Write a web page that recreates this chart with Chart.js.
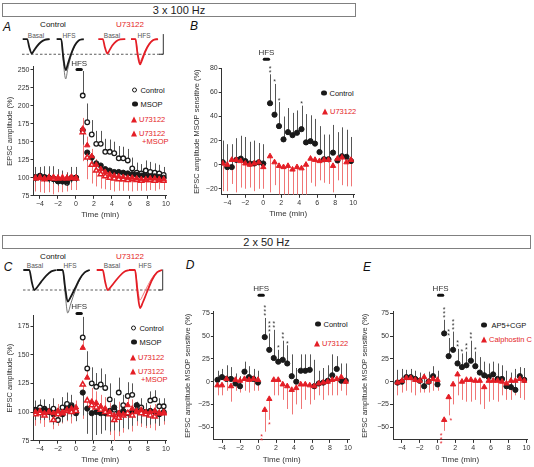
<!DOCTYPE html>
<html>
<head>
<meta charset="utf-8">
<script src="https://cdn.jsdelivr.net/npm/chart.js@4.4.0/dist/chart.umd.min.js"></script>
<style>
  body { margin: 0; width: 534px; height: 467px; position: relative; overflow: hidden; background: #fff;
         font-family: 'Liberation Sans', Arial, Helvetica, sans-serif; color: #1a1a1a; }
  canvas { position: absolute; }
  .box { position: absolute; border: 1px solid #808080; font-size: 11px; line-height: 12px; text-align: center; color: #222; }
  .c { position: absolute; transform: translate(-50%, -50%); white-space: nowrap; color: #111; }
  .let { font-size: 12px; font-style: italic; }
  .sub { font-size: 6.5px; color: #555; }
  .lg { position: absolute; transform: translateY(-50%); display: flex; align-items: center; font-size: 7.5px; white-space: nowrap; color: #111; }
  .red { color: #e41e26; }
  .mo { width: 3.4px; height: 3.4px; border: 1.4px solid #1a1a1a; border-radius: 50%; margin-right: 3px; background: #fff; }
  .mf { width: 5.5px; height: 5.5px; border-radius: 50%; background: #1a1a1a; margin-right: 3px; }
  .mt { width: 0; height: 0; border-left: 3.5px solid transparent; border-right: 3.5px solid transparent; border-bottom: 6px solid #e41e26; margin-right: 2px; }
</style>
</head>
<body>

<div class="box" style="left:2px;top:3px;width:352px;height:12px">3 x 100 Hz</div>
<div class="box" style="left:2px;top:235px;width:527px;height:12px">2 x 50 Hz</div>

<div class="c let" style="left:7px;top:27px">A</div>
<div class="c let" style="left:194px;top:26px">B</div>
<div class="c let" style="left:8px;top:267px">C</div>
<div class="c let" style="left:190px;top:265px">D</div>
<div class="c let" style="left:367px;top:267px">E</div>

<!-- trace labels -->
<div class="c" style="left:53px;top:24px;font-size:8px">Control</div>
<div class="c red" style="left:130px;top:24px;font-size:8px">U73122</div>
<div class="c sub" style="left:36px;top:35px">Basal</div>
<div class="c sub" style="left:69px;top:35px">HFS</div>
<div class="c sub" style="left:112px;top:35px">Basal</div>
<div class="c sub" style="left:144px;top:35px">HFS</div>

<div class="c" style="left:53px;top:256px;font-size:8px">Control</div>
<div class="c red" style="left:130px;top:256px;font-size:8px">U73122</div>
<div class="c sub" style="left:35px;top:265px">Basal</div>
<div class="c sub" style="left:70px;top:265px">HFS</div>
<div class="c sub" style="left:112px;top:265px">Basal</div>
<div class="c sub" style="left:145px;top:265px">HFS</div>

<!-- legends -->
<div class="lg" style="left:132px;top:90px"><span class="mo"></span>Control</div>
<div class="lg" style="left:132px;top:104px"><span class="mf"></span>MSOP</div>
<div class="lg red" style="left:131px;top:119px"><span class="mt"></span>U73122</div>
<div class="lg red" style="left:131px;top:133px"><span class="mt"></span>U73122</div>
<div class="lg red" style="left:142px;top:141px">+MSOP</div>

<div class="lg" style="left:321px;top:93px"><span class="mf"></span>Control</div>
<div class="lg red" style="left:322px;top:111px"><span class="mt"></span>U73122</div>

<div class="lg" style="left:131px;top:328px"><span class="mo"></span>Control</div>
<div class="lg" style="left:131px;top:342px"><span class="mf"></span>MSOP</div>
<div class="lg red" style="left:130px;top:357px"><span class="mt"></span>U73122</div>
<div class="lg red" style="left:130px;top:371px"><span class="mt"></span>U73122</div>
<div class="lg red" style="left:141px;top:379px">+MSOP</div>

<div class="lg" style="left:315px;top:324px"><span class="mf"></span>Control</div>
<div class="lg red" style="left:314px;top:343px"><span class="mt"></span>U73122</div>

<div class="lg" style="left:481px;top:325px"><span class="mf" style="margin-right:5px"></span>AP5+CGP</div>
<div class="lg red" style="left:481px;top:339px"><span class="mt"></span>Calphostin C</div>

<canvas id="traceA" width="150" height="56" style="left:20px;top:28px"></canvas>
<canvas id="traceC" width="150" height="58" style="left:20px;top:262px"></canvas>
<canvas id="chartA" width="176" height="164" style="left:5px;top:56px"></canvas>
<canvas id="chartB" width="175" height="175" style="left:192px;top:44px"></canvas>
<canvas id="chartC" width="176" height="167" style="left:5px;top:298px"></canvas>
<canvas id="chartD" width="180" height="185" style="left:183px;top:280px"></canvas>
<canvas id="chartE" width="180" height="185" style="left:360px;top:280px"></canvas>

<script>
// sample times (min), HFS given at 0
const times = [-4.5, -4, -3.5, -3, -2.5, -2, -1.5, -1, -0.5, 0,
  0.75, 1.25, 1.75, 2.25, 2.75, 3.25, 3.75, 4.25, 4.75, 5.25, 5.75, 6.25, 6.75, 7.25, 7.75, 8.25, 8.75, 9.25, 9.75];

// Panel A - 3 x 100 Hz, EPSC amplitude (%)
const aControl = [101, 103, 101, 100, 99, 96, 95, 93, 100, 100, 214, 177, 160, 147, 147, 136, 136, 134, 127, 127, 124, 113, 107, 106, 110, 108, 107, 106, 104];
const aControlErr = [14, 12, 15, 16, 17, 16, 15, 14, 15, 15, 34, 26, 20, 18, 18, 18, 17, 16, 17, 16, 16, 15, 14, 13, 14, 14, 13, 12, 11];
const aMsop = [100, 102, 100, 99, 98, 95, 96, 95, 99, 100, 166, 135, 128, 120, 117, 112, 110, 108, 108, 107, 106, 105, 104, 103, 103, 102, 102, 101, 100];
const aMsopErr = [6, 6, 6, 6, 6, 6, 6, 6, 6, 6, 20, 12, 10, 8, 8, 7, 7, 7, 7, 6, 6, 6, 6, 6, 6, 6, 6, 6, 6];
const aU73 = [100, 101, 99, 100, 101, 100, 99, 100, 101, 100, 168, 145, 130, 118, 112, 108, 105, 103, 102, 101, 100, 100, 99, 98, 98, 99, 99, 98, 98];
const aU73Err = [8, 8, 8, 8, 8, 8, 8, 8, 8, 8, 15, 12, 10, 8, 8, 7, 7, 7, 6, 6, 6, 6, 6, 6, 6, 6, 6, 6, 6];
const aU73Msop = [99, 100, 98, 100, 99, 99, 100, 99, 100, 99, 163, 128, 118, 110, 105, 102, 100, 99, 98, 98, 97, 98, 97, 96, 97, 97, 96, 97, 96];
const aU73MsopErr = [18, 20, 19, 20, 22, 19, 20, 18, 17, 16, 40, 30, 26, 22, 20, 18, 17, 18, 16, 16, 15, 17, 15, 14, 15, 14, 14, 13, 13];

// Panel B - MSOP sensitive component (%)
const bControl = [2, -2, -2, 4, 5, 3, 1, 1, 2, 1, 51, 41.5, 32, 21, 27, 24.5, 26.5, 29.5, 18.5, 19.5, 17.5, 10.5, 4.5, 4.5, 10, 3.5, 7, 6.5, 3];
const bControlErr = [18, 19, 19, 18, 19, 20, 18, 19, 16, 16, 24, 25.5, 20, 19, 20, 18.5, 18.5, 19.5, 23.5, 21.5, 20.5, 21.5, 20.5, 20.5, 23, 23.5, 24, 22.5, 20];
const bU73 = [1, 0, 4, 4, 3, 1, 0, 1, 2, -2, 7, 2, -1, -2, -1, -4, -2, -3, 0, 5, 4, 3, 4, 4, -1, 5, 6, 2, 4];
const bU73Err = [23, 22, 20, 27, 22, 21, 19, 23, 22, 18, 30, 19, 24, 23, 24, 21, 23, 22, 25, 20, 22, 16, 19, 20, 22, 18, 23, 20, 22];

// Panel C - 2 x 50 Hz, EPSC amplitude (%)
const cControl = [102, 104, 103, 101, 103, 93, 104, 107, 106, 99, 165, 138, 125, 122, 124, 121, 111, 102, 117, 106, 114, 115, 101, 104, 100, 110, 111, 105, 105];
const cControlErr = [8, 7, 8, 6, 9, 10, 9, 10, 9, 6, 18, 15, 14, 12, 14, 12, 14, 10, 13, 9, 12, 10, 8, 8, 8, 8, 8, 7, 7];
const cMsop = [101, 101, 102, 100, 98, 100, 98, 103, 105, 100, 117, 103, 99, 100, 99, 99, 101, 104, 99, 101, 99, 100, 106, 100, 100, 101, 100, 98, 100];
const cMsopErr = [8, 8, 9, 7, 9, 8, 7, 10, 9, 8, 20, 22, 25, 20, 18, 15, 18, 20, 16, 15, 14, 12, 14, 10, 12, 12, 10, 10, 8];
const cU73 = [100, 101, 99, 100, 99, 101, 100, 102, 103, 104, 156, 130, 109, 108, 105, 103, 100, 97, 99, 98, 106, 103, 101, 102, 100, 100, 101, 99, 100];
const cU73Err = [6, 6, 6, 6, 6, 6, 6, 6, 7, 6, 20, 18, 12, 10, 10, 10, 8, 8, 10, 8, 8, 8, 7, 7, 7, 6, 6, 6, 6];
const cU73Msop = [98, 99, 97, 100, 93, 98, 99, 101, 100, 101, 124, 110, 106, 104, 102, 100, 98, 93, 95, 97, 99, 97, 100, 99, 98, 97, 96, 99, 99];
const cU73MsopErr = [10, 9, 10, 9, 8, 10, 9, 9, 10, 8, 30, 20, 18, 15, 16, 14, 18, 22, 16, 15, 14, 14, 12, 12, 12, 11, 12, 11, 10];

// Panel D - MSOP sensitive component (%)
const dControl = [2, 5, 3, 3, -2, -5, 11, 5, 3, -1, 49, 35, 26, 22, 24, 20, 6, 0, 12, 12, 13, -5, -2, -1, 1, 7, 14, 1, 1];
const dControlErr = [10, 9, 15, 13, 11, 11, 11, 12, 11, 13, 21, 18, 31, 13, 21, 20, 24, 15, 18, 18, 17, 29, 14, 16, 17, 23, 14, 19, 19];
const dU73 = [-4, -4, 3, -5, 2, 1, 3, 2, 3, 2, -31, -19, 2, 2, -3, -5, -9, -7, -3, -3, -4, -5, -2, -1, 0, 2, 3, 5, 0];
const dU73Err = [11, 11, 13, 17, 12, 13, 13, 14, 13, 12, 24, 23, 17, 17, 17, 25, 27, 18, 27, 17, 21, 15, 13, 19, 15, 17, 18, 15, 15];

// Panel E - MSOP sensitive component (%)
const eAp5 = [-1, 0, 5, 5, 3, 1, -5, 0, 6, -3, 53, 28, 35, 20, 16, 18, 23, 17, 10, 7, 5, 8, 3, 3, -5, -6, -9, 6, 2];
const eAp5Err = [14, 14, 8, 9, 9, 9, 14, 11, 11, 15, 15, 20, 20, 16, 15, 15, 22, 16, 17, 15, 15, 14, 17, 15, 17, 16, 23, 10, 13];
const eCalph = [-1, 1, 4, 4, 2, 1, 5, 0, 3, 2, -42, -17, -3, 8, 0, 2, 2, 1, 1, -6, 1, 1, 1, 0, -2, 1, 1, 3, 1];
const eCalphErr = [14, 13, 14, 16, 17, 13, 17, 12, 13, 12, 12, 20, 22, 23, 20, 24, 24, 21, 26, 24, 23, 21, 23, 15, 18, 21, 16, 21, 21];

// example EPSC sweeps (time in ms from sweep start, amplitude relative to basal peak)
const traceT = [0, 4.5, 6.5, 9, 11, 14, 18, 22, 27];
const aSweepStart = [2.7, 36.7, 78.3, 111];
const aCtlBasal = [0, 0, -0.55, -1.0, -0.82, -0.52, -0.22, -0.06, 0];
const aCtlHfs = [0, 0, -1.2, -2.15, -1.75, -1.1, -0.45, -0.1, 0];
const aCtlHfsPeak = [0, 0, -1.5, -2.75, -2.1, -1.25, -0.5, -0.1, 0];
const aU73Basal = [0, 0, -0.55, -1.0, -0.8, -0.45, -0.15, -0.02, 0];
const aU73Hfs = [0, 0, -1.0, -1.75, -1.45, -0.9, -0.38, -0.08, 0];
const aU73HfsPeak = [0, 0, -0.85, -1.55, -1.3, -0.8, -0.32, -0.06, 0];

const traceT2 = [0, 6, 8.5, 11, 14, 18, 23, 28, 33];
const cSweepStart = [3.3, 36.7, 76.7, 109];
const cCtlBasal = [0, 0, -0.6, -1.0, -0.85, -0.58, -0.28, -0.07, 0];
const cCtlHfs = [0, 0, -0.9, -1.58, -1.35, -0.95, -0.45, -0.12, 0];
const cCtlHfsPeak = [0, 0, -1.2, -2.15, -1.7, -1.1, -0.5, -0.12, 0];
const cU73Basal = [0, 0, -0.6, -1.0, -0.85, -0.6, -0.3, -0.08, 0];
const cU73Hfs = [0, 0, -1.1, -1.9, -1.6, -1.1, -0.5, -0.12, 0];
const cU73HfsPeak = [0, 0, -0.85, -1.5, -1.25, -0.85, -0.4, -0.1, 0];

const FONT = "'Liberation Sans', Arial, Helvetica, sans-serif";
const BLACK = '#1a1a1a', GREY = '#555', RED = '#e41e26', PINK = '#ef7676';

// draws vertical one-sided error bars under the points
const errorBars = {
  id: 'errorBars',
  beforeDatasetsDraw(chart) {
    const { ctx, chartArea: area, scales: { x, y } } = chart;
    ctx.save();
    ctx.beginPath();
    ctx.rect(area.left - 5, 0, area.right - area.left + 10, area.bottom);
    ctx.clip();
    ctx.lineWidth = 1;
    chart.data.datasets.forEach(ds => {
      if (!ds.err) return;
      ctx.strokeStyle = ds.errColor;
      ds.data.forEach((p, j) => {
        const px = Math.round(x.getPixelForValue(p.x)) + 0.5;
        ctx.beginPath();
        ctx.moveTo(px, y.getPixelForValue(p.y));
        ctx.lineTo(px, y.getPixelForValue(p.y + ds.errDir * ds.err[j]));
        ctx.stroke();
      });
    });
    ctx.restore();
  }
};

// HFS bar + significance asterisks
const marks = {
  id: 'marks',
  afterDatasetsDraw(chart, args, opts) {
    const { ctx, scales: { x, y } } = chart;
    ctx.save();
    const x0 = x.getPixelForValue(0), x1 = x.getPixelForValue(0.7), yb = y.getPixelForValue(opts.hfsY);
    ctx.strokeStyle = '#111';
    ctx.lineWidth = 3;
    ctx.lineCap = 'round';
    ctx.beginPath(); ctx.moveTo(x0 + 1, yb); ctx.lineTo(x1 - 1, yb); ctx.stroke();
    ctx.fillStyle = '#333';
    ctx.font = '8px ' + FONT;
    ctx.textAlign = 'center';
    ctx.textBaseline = 'alphabetic';
    ctx.fillText('HFS', (x0 + x1) / 2, yb - 4);

    ctx.font = '7px ' + FONT;
    (opts.stars || []).forEach(s => {
      const ds = chart.data.datasets[s[0]];
      const i = s[1], txt = s[2], dx = s[3] || 0;
      const p = ds.data[i];
      const px = x.getPixelForValue(p.x + dx);
      const py = y.getPixelForValue(p.y + ds.errDir * ds.err[i]);
      ctx.fillStyle = ds.errDir > 0 ? '#333' : RED;
      for (let k = 0; k < txt.length; k++) {
        const cy = py - ds.errDir * (3.5 + k * 4);
        ctx.fillText('*', px, cy + 4);
      }
    });
    ctx.restore();
  }
};

const STYLE = {
  open:    { ps: 'circle', r: 2.3, bg: '#fff', bc: BLACK, bw: 1.3, ec: GREY },
  filled:  { ps: 'circle', r: 2.6, bg: BLACK, bc: BLACK, bw: 1, ec: GREY },
  tri:     { ps: 'triangle', r: 3.1, bg: RED, bc: RED, bw: 1, ec: PINK },
  triOpen: { ps: 'triangle', r: 3.0, bg: '#fff', bc: RED, bw: 1.5, ec: PINK }
};

function series(label, vals, err, dir, kind) {
  const s = STYLE[kind];
  return {
    label, data: times.map((t, i) => ({ x: t, y: vals[i] })),
    err, errDir: dir, errColor: s.ec,
    pointStyle: s.ps, pointRadius: s.r, pointBackgroundColor: s.bg,
    pointBorderColor: s.bc, pointBorderWidth: s.bw,
    backgroundColor: s.bg, borderColor: s.bc, showLine: false
  };
}

const fmt = v => (v < 0 ? '\u2212' + Math.abs(v) : '' + v);

function panel(id, g, datasets, yTitle, hfsY, stars) {
  return new Chart(document.getElementById(id), {
    type: 'scatter',
    data: { datasets },
    options: {
      responsive: false, animation: false, devicePixelRatio: 1,
      layout: { padding: { top: g.padTop, right: g.padRight, left: 0, bottom: 0 } },
      plugins: { legend: { display: false }, tooltip: { enabled: false }, marks: { hfsY, stars } },
      scales: {
        x: {
          type: 'linear', min: g.xmin, max: g.xmax,
          afterFit: s => { s.height = g.xh; },
          border: { color: '#333', width: 1 },
          grid: { drawOnChartArea: false, tickLength: 3, color: '#333' },
          ticks: { stepSize: 2, includeBounds: false, padding: 1, color: '#333', maxRotation: 0,
                   font: { size: 7, family: FONT }, callback: fmt },
          title: { display: true, text: 'Time (min)', color: '#333', padding: 0, font: { size: 8, family: FONT } }
        },
        y: {
          type: 'linear', min: g.ymin, max: g.ymax,
          afterFit: s => { s.width = g.yw; },
          border: { color: '#333', width: 1 },
          grid: { drawOnChartArea: false, tickLength: 3, color: '#333' },
          ticks: { stepSize: g.ystep, includeBounds: false, padding: 1, color: '#333',
                   font: { size: 7, family: FONT }, callback: fmt },
          title: { display: true, text: yTitle, color: '#333', padding: 0, font: { size: 7.5, family: FONT } }
        }
      }
    },
    plugins: [errorBars, marks]
  });
}

function sweep(t, start, vals, color, width) {
  return {
    data: t.map((v, i) => ({ x: v + start, y: vals[i] })),
    borderColor: color, borderWidth: width, cubicInterpolationMode: 'monotone',
    pointRadius: 0, fill: false
  };
}

function guide(xs, ys, dash) {
  return {
    data: xs.map((v, i) => ({ x: v, y: ys[i] })),
    borderColor: '#333', borderWidth: dash ? 0.8 : 1, borderDash: dash ? [2.5, 2] : [],
    pointRadius: 0, fill: false, tension: 0
  };
}

function traceChart(id, ymin, ymax, lines) {
  return new Chart(document.getElementById(id), {
    type: 'line',
    data: { datasets: lines },
    options: {
      responsive: false, animation: false, devicePixelRatio: 1,
      layout: { padding: 0 },
      plugins: { legend: { display: false }, tooltip: { enabled: false } },
      scales: {
        x: { type: 'linear', display: false, min: 0, max: 150 },
        y: { display: false, min: ymin, max: ymax }
      }
    }
  });
}

traceChart('traceA', -3.1, 0.76, [
  sweep(traceT, aSweepStart[0], aCtlBasal, BLACK, 1.8),
  sweep(traceT, aSweepStart[1], aCtlHfs, BLACK, 1.8),
  sweep(traceT, aSweepStart[1], aCtlHfsPeak, '#666', 0.9),
  sweep(traceT, aSweepStart[2], aU73Basal, RED, 1.8),
  sweep(traceT, aSweepStart[3], aU73Hfs, RED, 1.8),
  sweep(traceT, aSweepStart[3], aU73HfsPeak, PINK, 1),
  guide([2, 143.3], [-1.05, -1.05], true),
  guide([139, 143.3, 143.3], [-1.05, -1.05, 0.34], false)
]);

traceChart('traceC', -2.5, 0.4, [
  sweep(traceT2, cSweepStart[0], cCtlBasal, BLACK, 1.8),
  sweep(traceT2, cSweepStart[1], cCtlHfs, BLACK, 1.8),
  sweep(traceT2, cSweepStart[1], cCtlHfsPeak, '#666', 0.9),
  sweep(traceT2, cSweepStart[2], cU73Basal, RED, 1.8),
  sweep(traceT2, cSweepStart[3], cU73Hfs, RED, 1.8),
  sweep(traceT2, cSweepStart[3], cU73HfsPeak, PINK, 1),
  guide([3, 142.7], [-1.0, -1.0], true),
  guide([138.5, 142.7, 142.7], [-1.0, -1.0, 0.03], false)
]);

panel('chartA', { xmin: -4.72, xmax: 10.1, ymin: 75, ymax: 254, ystep: 25, padTop: 10.7, padRight: 14.1, yw: 28.5, xh: 24.2 }, [
  series('U73122', aU73, aU73Err, 1, 'tri'),
  series('U73122+MSOP', aU73Msop, aU73MsopErr, -1, 'triOpen'),
  series('MSOP', aMsop, aMsopErr, -1, 'filled'),
  series('Control', aControl, aControlErr, 1, 'open')
], 'EPSC amplitude (%)', 250, []);

panel('chartB', { xmin: -4.62, xmax: 10.15, ymin: -25, ymax: 80, ystep: 20, padTop: 24.3, padRight: 12.4, yw: 29.7, xh: 24.2 }, [
  series('U73122', bU73, bU73Err, -1, 'tri'),
  series('Control', bControl, bControlErr, 1, 'filled')
], 'EPSC amplitude MSOP sensitive (%)', 87.5,
  [[1, 10, '**'], [1, 11, '*'], [1, 12, '*'], [1, 17, '*']]);

panel('chartC', { xmin: -4.72, xmax: 10.1, ymin: 75, ymax: 184, ystep: 25, padTop: 17.7, padRight: 14.1, yw: 28.5, xh: 24.3 }, [
  series('U73122', cU73, cU73Err, 1, 'tri'),
  series('U73122+MSOP', cU73Msop, cU73MsopErr, -1, 'triOpen'),
  series('MSOP', cMsop, cMsopErr, -1, 'filled'),
  series('Control', cControl, cControlErr, 1, 'open')
], 'EPSC amplitude (%)', 186, []);

panel('chartD', { xmin: -4.9, xmax: 10.15, ymin: -64, ymax: 77, ystep: 25, padTop: 31.6, padRight: 13.65, yw: 30.9, xh: 25.1 }, [
  series('U73122', dU73, dU73Err, -1, 'tri'),
  series('Control', dControl, dControlErr, 1, 'filled')
], 'EPSC amplitude MSOP sensitive (%)', 95,
  [[1, 10, '***'], [1, 11, '***'], [1, 12, '**'], [1, 13, '*'], [1, 14, '**'], [1, 15, '*'],
   [0, 10, '**', -0.35], [0, 11, '*', 0]]);

panel('chartE', { xmin: -5.0, xmax: 10.1, ymin: -64, ymax: 77, ystep: 25, padTop: 31.6, padRight: 12.6, yw: 33, xh: 25.1 }, [
  series('Calphostin C', eCalph, eCalphErr, -1, 'tri'),
  series('AP5+CGP', eAp5, eAp5Err, 1, 'filled')
], 'EPSC amplitude MSOP sensitive (%)', 95,
  [[1, 10, '***'], [1, 11, '**'], [1, 12, '***'], [1, 13, '**'], [1, 14, '*'], [1, 15, '**'], [1, 16, '**'], [1, 17, '*'],
   [0, 10, '***', -0.35], [0, 11, '*', 0.25]]);
</script>
</body>
</html>
